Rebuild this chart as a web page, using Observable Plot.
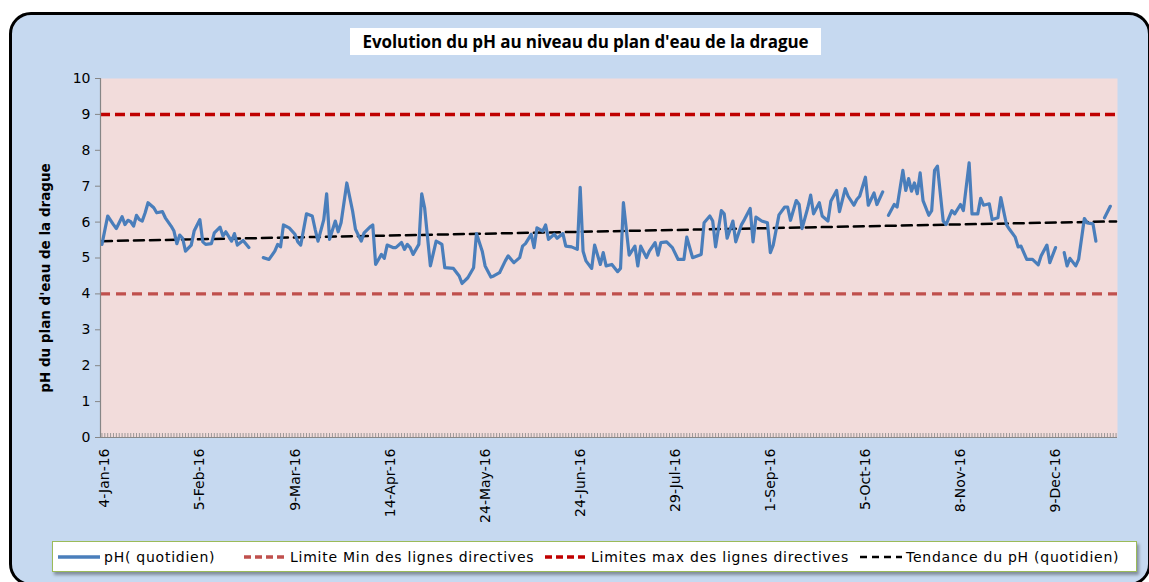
<!DOCTYPE html>
<html><head><meta charset="utf-8">
<script src="https://cdn.jsdelivr.net/npm/d3@7"></script>
<script src="https://cdn.jsdelivr.net/npm/@observablehq/plot@0.6"></script>
<style>
html,body{margin:0;padding:0;background:#fff;}
#wrap{position:relative;width:1149px;height:582px;overflow:hidden;background:#fff;}
#box{position:absolute;left:9px;top:12px;width:1142px;height:574px;box-sizing:border-box;border:3px solid #000;border-radius:22px;background:#c6d9f0;}
#title{position:absolute;left:350px;top:28px;width:471px;height:27px;background:#fff;font:bold 17px "Open Sans",sans-serif;letter-spacing:-0.1px;color:#000;display:flex;align-items:center;justify-content:center;white-space:nowrap;}
#chart{position:absolute;left:0;top:0;}
#ylab{position:absolute;left:45px;top:278px;transform:translate(-50%,-50%) rotate(-90deg);font:bold 13.5px "DejaVu Sans",sans-serif;white-space:nowrap;color:#000;}
#legend{position:absolute;left:52px;top:541px;width:1085px;height:31px;box-sizing:border-box;border:1.5px solid #9bbb59;background:#fff;box-shadow:2px 3px 3px rgba(0,0,0,0.35);font:14px "DejaVu Sans",sans-serif;letter-spacing:0.75px;color:#000;white-space:nowrap;}
.item{position:absolute;top:0;height:100%;display:flex;align-items:center;}
.item svg{margin-right:4px;}
</style>
</head><body>
<div id="wrap">
  <div id="box"></div>
  <div id="chart"></div>
  <div id="title"></div>
  <div id="ylab"></div>
  <div id="legend"></div>
</div>
<script>
// ---- data ----
const chartTitle = "Evolution du pH au niveau du plan d'eau de la drague";
const yTitle = "pH du plan d'eau de la drague";
const dateLabels = ["4-Jan-16","5-Feb-16","9-Mar-16","14-Apr-16","24-May-16","24-Jun-16","29-Jul-16","1-Sep-16","5-Oct-16","8-Nov-16","9-Dec-16"];
const labelStep = 33;          // categories between date labels
const categoryCount = 353;     // daily categories on the axis
const yTicks = [0,1,2,3,4,5,6,7,8,9,10];
const limitMin = 4;
const limitMax = 9;
const trendCats = [0, 352];
const trendValues = [5.47, 6.02];
// [category index, pH] ; null = missing day
const phReadings = [
[0,5.38],[2,6.17],[4,5.93],[5,5.82],[7,6.15],[8,5.93],[9,6.05],[10,6.01],[11,5.89],[12,6.19],[13,6.07],[14,6.03],[15,6.26],[16,6.54],[18,6.40],[19,6.26],[21,6.29],[22,6.12],[24,5.89],[25,5.75],[26,5.40],[27,5.64],[28,5.55],[29,5.19],[31,5.36],[32,5.75],[34,6.07],[35,5.45],[36,5.38],[38,5.40],[39,5.70],[41,5.86],[42,5.61],[43,5.73],[45,5.47],[46,5.68],[47,5.36],[49,5.49],[51,5.29],[52,null],
[56,5.01],[58,4.96],[60,5.19],[61,5.38],[62,5.31],[63,5.92],[65,5.84],[67,5.66],[68,5.45],[69,5.36],[71,6.23],[73,6.17],[74,5.80],[75,5.47],[77,6.07],[78,6.79],[79,5.52],[81,6.03],[82,5.73],[83,5.98],[85,7.09],[87,6.31],[88,5.80],[90,5.47],[91,5.70],[93,5.86],[94,5.92],[95,4.82],[97,5.10],[98,4.99],[99,5.36],[101,5.29],[102,5.29],[104,5.43],[105,5.24],[106,5.38],[107,5.29],[108,5.10],[110,5.38],[111,6.79],[112,6.40],[114,4.78],[116,5.47],[117,5.43],[118,5.38],[119,4.73],[122,4.71],[124,4.50],[125,4.29],[127,4.45],[129,4.73],[130,5.68],[132,5.19],[133,4.78],[135,4.47],[136,4.50],[138,4.59],[140,4.92],[141,5.06],[143,4.87],[145,5.01],[146,5.33],[147,5.40],[149,5.66],[150,5.29],[151,5.84],[153,5.75],[154,5.92],[155,5.52],[157,5.66],[158,5.55],[160,5.68],[161,5.33],[163,5.31],[165,5.24],[166,6.97],[167,5.19],[168,4.92],[170,4.71],[171,5.36],[173,4.82],[174,5.15],[175,4.78],[177,4.82],[179,4.62],[180,4.71],[181,6.54],[183,5.08],[185,5.33],[186,4.78],[187,5.33],[189,5.01],[190,5.19],[192,5.43],[193,5.08],[194,5.43],[196,5.45],[198,5.29],[200,4.96],[202,4.96],[203,5.58],[205,5.01],[208,5.10],[209,5.98],[211,6.17],[212,6.03],[213,5.31],[215,6.32],[216,6.23],[217,5.55],[219,6.03],[220,5.45],[222,5.93],[223,6.07],[225,6.38],[226,5.45],[227,6.14],[229,6.03],[231,5.98],[232,5.15],[233,5.36],[235,6.20],[237,6.42],[238,6.42],[239,6.05],[241,6.60],[242,6.49],[243,5.82],[245,6.40],[246,6.75],[247,6.23],[249,6.54],[250,6.17],[252,6.03],[253,6.58],[255,6.88],[256,6.29],[258,6.93],[259,6.72],[261,6.47],[262,6.63],[263,6.72],[265,7.25],[266,6.47],[268,6.81],[269,6.49],[271,6.84],[272,null],
[273,6.19],[275,6.49],[276,6.42],[278,7.44],[279,6.88],[280,7.21],[281,6.86],[282,7.09],[283,6.79],[284,7.37],[285,6.60],[287,6.19],[288,6.32],[289,7.44],[290,7.56],[292,6.03],[293,5.93],[295,6.32],[296,6.23],[298,6.49],[299,6.32],[301,7.65],[302,6.23],[304,6.23],[305,6.66],[306,6.47],[308,6.51],[309,6.07],[311,6.12],[312,6.68],[314,5.92],[315,5.80],[317,5.58],[318,5.31],[319,5.33],[321,4.96],[323,4.96],[325,4.81],[326,5.06],[328,5.36],[329,4.87],[331,5.29],[332,null],
[334,5.15],[335,4.78],[336,4.99],[338,4.78],[339,4.96],[341,6.10],[342,5.98],[344,5.95],[345,5.47],[346,null],
[348,6.12],[350,6.44]
];
const legendLabels = ["pH( quotidien)","Limite Min des lignes directives","Limites max des lignes directives","Tendance du pH (quotidien)"];

// ---- styles ----
const colPh = "#4a7ebb", colMin = "#c0504d", colMax = "#c00000", colTrend = "#000000", colAxis = "#868686";

const phData = phReadings.map(([c, v]) => ({c, v}));
const trendData = trendCats.map((c, i) => ({c, v: trendValues[i]}));
const labelIdx = dateLabels.map((_, i) => i * labelStep);

const chart = Plot.plot({
  width: 1149, height: 530,
  marginLeft: 100, marginRight: 32, marginTop: 78, marginBottom: 93,
  style: {background: "transparent", fontFamily: "DejaVu Sans", fontSize: "14px", color: "#000", overflow: "visible"},
  x: {domain: [-0.5, categoryCount - 0.5]},
  y: {domain: [0, 10]},
  marks: [
    Plot.frame({fill: "#f2dcdb", stroke: null}),
    Plot.ruleY([limitMin], {stroke: colMin, strokeWidth: 3.2, strokeDasharray: "10,6"}),
    Plot.ruleY([limitMax], {stroke: colMax, strokeWidth: 3.5, strokeDasharray: "10,5"}),
    Plot.line(trendData, {x: "c", y: "v", stroke: colTrend, strokeWidth: 2.5, strokeDasharray: "10,6"}),
    Plot.line(phData, {x: "c", y: "v", stroke: colPh, strokeWidth: 3.2, strokeLinejoin: "round"}),
    Plot.axisX({ticks: d3.range(categoryCount), tickSize: 4, dy: -4, tickFormat: () => "", stroke: colAxis, strokeWidth: 0.8, label: null}),
    Plot.axisX({ticks: labelIdx, tickFormat: d => dateLabels[d / labelStep], tickRotate: -90, tickSize: 0, tickPadding: 11, dx: 3, fontSize: 14, label: null}),
    Plot.axisY({ticks: yTicks, tickSize: 5, tickPadding: 5, stroke: colAxis, fontSize: 14, label: null}),
    Plot.ruleX([-0.5], {stroke: colAxis, strokeWidth: 1.2}),
    Plot.ruleY([0], {stroke: colAxis, strokeWidth: 1.2})
  ]
});
document.getElementById("chart").appendChild(chart);
document.getElementById("title").textContent = chartTitle;
document.getElementById("ylab").textContent = yTitle;

// legend
const legendStyles = [
  {stroke: colPh, width: 3.5, dash: null, left: 5},
  {stroke: colMin, width: 3.5, dash: "7,4", left: 191},
  {stroke: colMax, width: 3.5, dash: "7,4", left: 492},
  {stroke: colTrend, width: 2.5, dash: "7,5", left: 807}
];
const leg = d3.select("#legend");
legendLabels.forEach((lab, i) => {
  const it = leg.append("div").attr("class", "item").style("left", legendStyles[i].left + "px");
  const s = it.append("svg").attr("width", 42).attr("height", 10);
  s.append("line").attr("x1", 0).attr("x2", 42).attr("y1", 5).attr("y2", 5)
    .attr("stroke", legendStyles[i].stroke).attr("stroke-width", legendStyles[i].width)
    .attr("stroke-dasharray", legendStyles[i].dash);
  it.append("span").text(lab);
});
</script>
</body></html>
